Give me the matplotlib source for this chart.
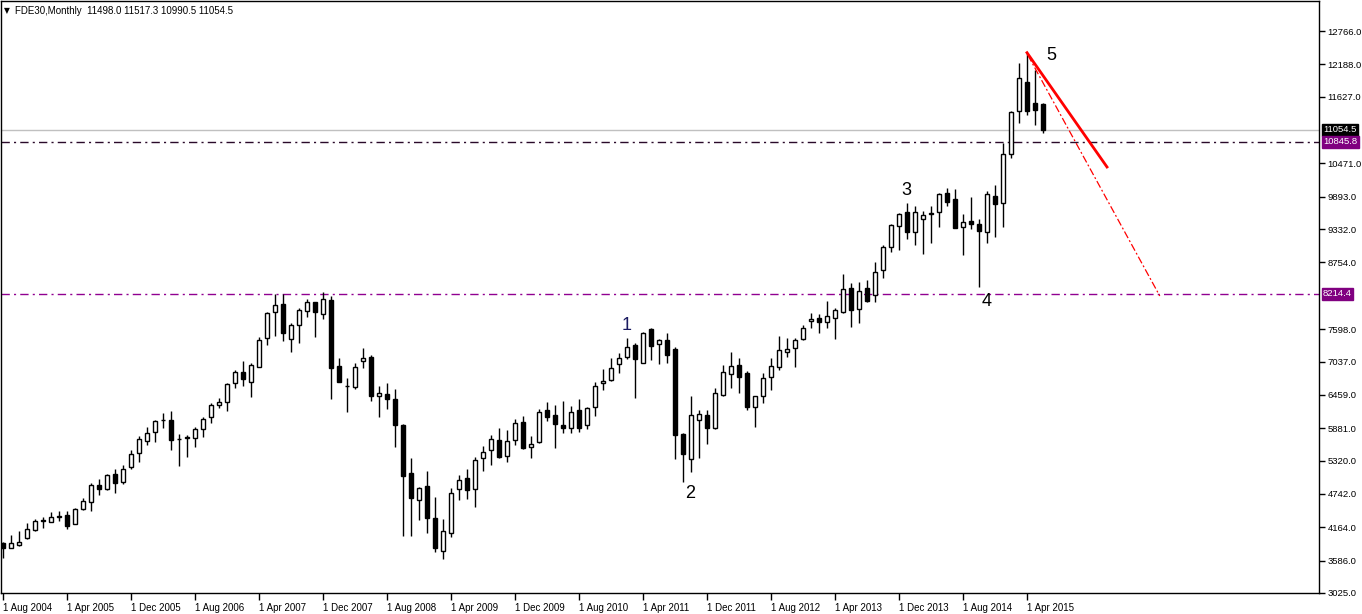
import matplotlib
matplotlib.use('Agg')
import matplotlib.pyplot as plt
import matplotlib.transforms as mtransforms
import numpy as np
import pandas as pd

# monthly FDE30 candles, Aug 2004 .. Jun 2015
opens = [3898, 3809, 3857, 3973, 4112, 4275, 4262, 4350, 4378, 4228, 4476, 4597,
         4898, 4829, 5088, 4944, 5204, 5447, 5666, 5811, 6024, 6024, 5690, 5720,
         5707, 5863, 6070, 6290, 6331, 6660, 6851, 6677, 6949, 7440, 7891, 8029,
         7423, 7665, 7908, 8064, 7856, 8099, 6955, 6614, 6591, 7041, 7117, 6446,
         6475, 6388, 5937, 5100, 4643, 4880, 4326, 3760, 4060, 4822, 5013, 4822,
         5360, 5499, 5672, 5406, 5672, 5984, 5562, 5637, 6192, 6105, 5938, 5880,
         6198, 5938, 6244, 6660, 6712, 6989, 7116, 7324, 7018, 7596, 7341, 7405,
         7249, 5782, 5343, 6024, 6111, 5880, 6457, 6816, 6977, 6833, 6244, 6435,
         6764, 6937, 7197, 7267, 7423, 7735, 7787, 7717, 7787, 7891, 8307, 7943,
         8307, 8191, 8624, 9017, 9392, 9623, 9277, 9502, 9595, 9635, 9953, 9849,
         9375, 9467, 9421, 9288, 9901, 9779, 10628, 11379, 11887, 11524, 11498.0]
highs = [3916, 4031, 4101, 4233, 4309, 4343, 4424, 4447, 4447, 4493, 4667, 4927,
         4996, 5088, 5175, 5244, 5504, 5747, 5909, 6024, 6140, 6180, 5776, 5759,
         5897, 6070, 6325, 6400, 6660, 6891, 7047, 7007, 7457, 7891, 8203, 8203,
         7700, 7960, 8116, 8070, 8237, 8174, 7093, 6747, 7007, 7267, 7150, 6614,
         6660, 6556, 5960, 5366, 4869, 5140, 4695, 4303, 4846, 5071, 5175, 5389,
         5574, 5758, 5880, 5851, 6036, 6093, 5747, 6209, 6336, 6284, 6359, 6267,
         6388, 6244, 6689, 6908, 7093, 7191, 7451, 7365, 7549, 7613, 7420, 7526,
         7295, 5805, 6440, 6198, 6198, 6573, 6977, 7197, 7105, 6874, 6440, 6833,
         7093, 7481, 7440, 7440, 7671, 7873, 7856, 8087, 7960, 8549, 8393, 8416,
         8451, 8757, 9057, 9421, 9606, 9779, 9733, 9652, 9733, 9953, 10039, 10022,
         9589, 9883, 9502, 9993, 10097, 10830, 11380, 12217, 12390, 12090, 11517.3]
lows = [3627, 3800, 3846, 3960, 4100, 4158, 4251, 4280, 4141, 4216, 4465, 4453,
        4730, 4811, 4765, 4909, 5180, 5302, 5597, 5649, 5880, 5504, 5233, 5389,
        5562, 5724, 5978, 6227, 6180, 6573, 6614, 6417, 6937, 7319, 7486, 7400,
        7209, 7365, 7804, 7457, 7769, 6383, 6677, 6169, 6556, 6920, 6360, 6080,
        6221, 5562, 4020, 4020, 4297, 4072, 3742, 3609, 4002, 4638, 4661, 4522,
        5140, 5250, 5371, 5302, 5591, 5527, 5371, 5620, 6013, 5545, 5793, 5793,
        5811, 5863, 6099, 6544, 6700, 6833, 7076, 6400, 7006, 7064, 6989, 7006,
        5343, 4955, 5129, 5360, 5600, 5870, 6446, 6580, 6498, 6204, 5909, 6314,
        6539, 6891, 7111, 6937, 7410, 7625, 7527, 7613, 7423, 7880, 7642, 7712,
        8070, 8076, 8479, 8942, 8971, 9155, 9057, 8895, 9086, 9375, 9739, 9346,
        8884, 9340, 8335, 9098, 9202, 9363, 10571, 11165, 11310, 11137, 10990.5]
closes = [3800, 3898, 3916, 4130, 4268, 4285, 4337, 4358, 4193, 4482, 4621, 4892,
          4834, 5065, 4927, 5169, 5435, 5689, 5793, 6007, 6030, 5684, 5700, 5730,
          5863, 6036, 6279, 6330, 6640, 6851, 6730, 6972, 7405, 7873, 8012, 7527,
          7665, 7925, 8064, 7891, 8127, 6920, 6689, 6620, 6937, 7093, 6446, 6487,
          6394, 5943, 5059, 4678, 4846, 4331, 3812, 4095, 4759, 4984, 4817, 5331,
          5464, 5689, 5383, 5655, 5966, 5539, 5603, 6157, 6082, 5961, 5891, 6157,
          5891, 6226, 6614, 6706, 6920, 7093, 7284, 7076, 7526, 7312, 7405, 7145,
          5764, 5429, 6105, 6122, 5891, 6486, 6856, 6960, 6775, 6255, 6435, 6747,
          6955, 7232, 7255, 7411, 7613, 7769, 7729, 7821, 7925, 8289, 7931, 8255,
          8093, 8584, 9017, 9404, 9594, 9277, 9623, 9571, 9605, 9935, 9808, 9358,
          9450, 9427, 9306, 9935, 9774, 10628, 11356, 11945, 11379, 11397, 11054.5]

months = pd.date_range('2004-08-01', periods=len(closes), freq='MS')
price_ticks = [12766.0, 12188.0, 11627.0, 10471.0, 9893.0, 9332.0, 8754.0, 7598.0,
               7037.0, 6459.0, 5881.0, 5320.0, 4742.0, 4164.0, 3586.0, 3025.0]
last_price = 11054.5
level_hi = 10845.8
level_lo = 8214.4

# wave labels (bar index, price)
wave_text = ['1', '2', '3', '4', '5']
wave_x = [78, 85.9, 112.9, 123, 131]
wave_y = [7670, 4758, 10010, 8069, 12350]
wave_col = ['#1a1a60', 'black', 'black', 'black', 'black']
# red trend lines drawn on the chart
trend_main_x = [128, 138]
trend_main_y = [12390, 10409]
trend_thin_x = [128.1, 144.6]
trend_thin_y = [12350, 8173]

W, H = 1362, 614
fig = plt.figure(figsize=(W / 100, H / 100), dpi=100)
ax = fig.add_axes([1 / W, 21 / H, 1318 / W, 592 / H])
ax.set_xlim(-0.25, 164.5)
ax.set_ylim(3025, 13286)

x = np.arange(len(closes))
o = np.array(opens); c = np.array(closes)
h = np.array(highs); l = np.array(lows)
up = c >= o

ax.vlines(x, l, h, color='black', linewidth=1.0, zorder=2)
body_lo = np.minimum(o, c)
body_h = np.maximum(np.abs(c - o), 1)
ax.bar(x[up], body_h[up], bottom=body_lo[up], width=0.62, color='white',
       edgecolor='black', linewidth=1.0, zorder=3)
ax.bar(x[~up], body_h[~up], bottom=body_lo[~up], width=0.62, color='black',
       edgecolor='black', linewidth=1.0, zorder=3)

# horizontal levels
ax.axhline(last_price, color='#c0c0c0', linewidth=1.0, zorder=1)
ax.axhline(level_hi, color='#2a0a2a', linewidth=1.0, dashes=(6, 3, 1.5, 3), zorder=1)
ax.axhline(level_lo, color='#900090', linewidth=1.0, dashes=(6, 3, 1.5, 3), zorder=1)

# trend lines
ax.plot(trend_main_x, trend_main_y, color='red', linewidth=2.0, zorder=4)
ax.plot(trend_thin_x, trend_thin_y, color='red', linewidth=0.9,
        dashes=(6, 2, 1.5, 2), zorder=4)

for t, xx, yy, cc in zip(wave_text, wave_x, wave_y, wave_col):
    ax.text(xx, yy, t, fontsize=13, color=cc, ha='center', va='center',
            family=['Liberation Sans', 'DejaVu Sans'], zorder=5)

# axes styling
for s in ax.spines.values():
    s.set_linewidth(1.0)
    s.set_color('black')
ax.yaxis.tick_right()
ax.set_yticks(price_ticks)
ax.set_yticklabels(['%.1f' % v for v in price_ticks], fontsize=6.8,
                   family='Liberation Sans')
ax.tick_params(axis='y', direction='out', length=4, width=1, pad=2)

xt = x[::8]
ax.set_xticks(xt)
ax.set_xticklabels(['1 ' + m.strftime('%b %Y') for m in months[::8]],
                   fontsize=7, family='Liberation Sans', ha='left')
ax.tick_params(axis='x', direction='out', length=5, width=1, pad=2)

# price tags on the right scale
tag_tr = mtransforms.blended_transform_factory(ax.transAxes, ax.transData)
tag_tr = tag_tr + mtransforms.ScaledTranslation(4 / 100, 0, fig.dpi_scale_trans)
for val, bg in [(last_price, 'black'), (level_hi, '#800080'), (level_lo, '#800080')]:
    ax.text(1.0, val, '%.1f' % val, transform=tag_tr, fontsize=6.8,
            family='Liberation Sans', color='white', ha='left', va='center',
            bbox=dict(boxstyle='square,pad=0.15', fc=bg, ec=bg), clip_on=False)

fig.text(4 / W, 1 - 11 / H, '\u25bc', fontsize=5.5, va='center', ha='left',
         family=['DejaVu Sans'])
fig.text(15 / W, 1 - 11 / H, 'FDE30,Monthly  11498.0 11517.3 10990.5 11054.5',
         fontsize=7, va='center', ha='left', family=['Liberation Sans', 'DejaVu Sans'])

fig.savefig('out.png', dpi=100, facecolor='white')
